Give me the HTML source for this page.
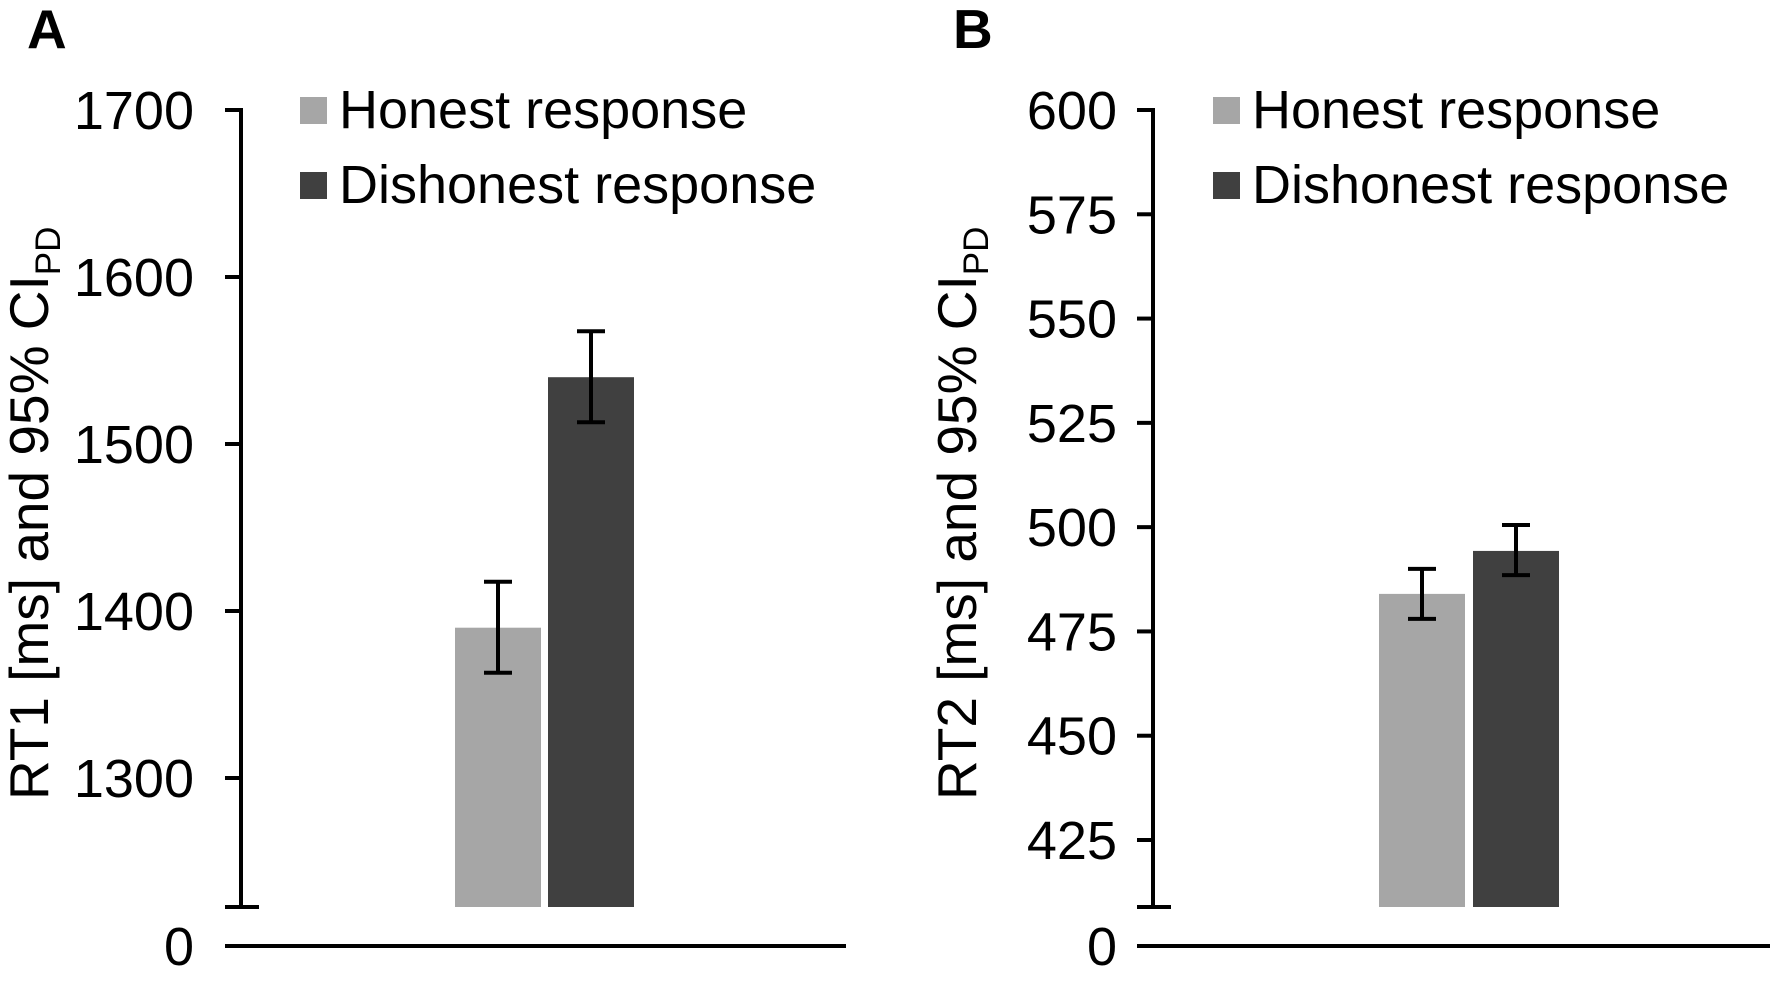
<!DOCTYPE html>
<html><head><meta charset="utf-8"><style>
html,body{margin:0;padding:0;background:#fff;}
svg{display:block;font-family:"Liberation Sans",Arial,sans-serif;}
</style></head><body>
<svg id="chart" width="1773" height="1003" viewBox="0 0 1773 1003"></svg>
<script>
const categories = ["Honest response", "Dishonest response"];
const colors = ["#a6a6a6", "#404040"];
const ticksA = [1300, 1400, 1500, 1600, 1700];
const meansA = [1390, 1540];
const lowA = [1363, 1513];
const highA = [1417.5, 1567.5];
const ticksB = [425, 450, 475, 500, 525, 550, 575, 600];
const meansB = [484, 494.3];
const lowB = [478, 488.5];
const highB = [490, 500.5];

const NS = "http://www.w3.org/2000/svg";
const svg = document.getElementById("chart");
function mk(tag, attrs, parent) {
  const e = document.createElementNS(NS, tag);
  for (const k in attrs) e.setAttribute(k, attrs[k]);
  (parent || svg).appendChild(e);
  return e;
}

function panel(cfg) {
  const g = mk("g", {});
  
  
  const y = v => cfg.yTop + (cfg.vMax - v) * (cfg.yBot - cfg.yTop) / (cfg.vMax - cfg.vMin);
  const L = mk("text", {x: cfg.letterX, y: 48, "font-size": 55, "font-weight": "bold", fill: "#000"}, g);
  L.textContent = cfg.letter;
  
  
  const ax = mk("line", {x1: cfg.axX, x2: cfg.axX, y1: cfg.yTop - 2, y2: cfg.breakY, stroke: "#000", "stroke-width": 4}, g);
  
  
  cfg.ticks.forEach(t => {
    const ty = y(t);
    const tk = mk("line", {x1: cfg.axX - 16, x2: cfg.axX, y1: ty, y2: ty, stroke: "#000", "stroke-width": 4}, g);
    
    
    const tl = mk("text", {x: cfg.labelX, y: ty + 19, "font-size": 54, "text-anchor": "end", fill: "#000"}, g);
    tl.textContent = t;
    
    
  });
  const br = mk("line", {x1: cfg.axX - 16, x2: cfg.axX + 18, y1: cfg.breakY, y2: cfg.breakY, stroke: "#000", "stroke-width": 4}, g);
  
  
  const base = mk("line", {x1: cfg.axX - 16, x2: cfg.baseEnd, y1: 946, y2: 946, stroke: "#000", "stroke-width": 4}, g);
  
  
  const z = mk("text", {x: cfg.labelX, y: 965, "font-size": 54, "text-anchor": "end", fill: "#000"}, g);
  z.textContent = "0";
  
  
  cfg.means.forEach((m, i) => {
    const x0 = cfg.barX[i];
    const b = mk("rect", {x: x0, y: y(m), width: 86, height: cfg.breakY - y(m), fill: colors[i]}, g);
    
    
    const cx = x0 + 43;
    const eg = mk("g", {stroke: "#000", "stroke-width": 4}, g);
    
    
    mk("line", {x1: cx, x2: cx, y1: y(cfg.high[i]), y2: y(cfg.low[i])}, eg);
    mk("line", {x1: cx - 14, x2: cx + 14, y1: y(cfg.high[i]), y2: y(cfg.high[i])}, eg);
    mk("line", {x1: cx - 14, x2: cx + 14, y1: y(cfg.low[i]), y2: y(cfg.low[i])}, eg);
  });
  categories.forEach((c, i) => {
    const ly = 97 + i * 75;
    const lg = mk("g", {}, g);
    
    
    mk("rect", {x: cfg.legX, y: ly, width: 27, height: 27, fill: colors[i]}, lg);
    const t = mk("text", {x: cfg.legX + 39, y: ly + 31, "font-size": 54, fill: "#000"}, lg);
    t.textContent = c;
  });
  const tt = mk("text", {transform: `translate(${cfg.titleX},${800}) rotate(-90)`, "font-size": 55, fill: "#000"}, g);
  
  
  tt.appendChild(document.createTextNode(cfg.title + " [ms] and 95% CI"));
  const sub = mk("tspan", {"font-size": 35, dy: 12}, tt);
  sub.textContent = "PD";
}

panel({name: "panel-a", letter: "A", letterX: 27, axX: 241, labelX: 194, yTop: 110, yBot: 778, vMax: 1700, vMin: 1300,
  breakY: 907, baseEnd: 846, ticks: ticksA, means: meansA, low: lowA, high: highA,
  barX: [455, 548], legX: 300, titleX: 48, title: "RT1"});
panel({name: "panel-b", letter: "B", letterX: 953, axX: 1153, labelX: 1117, yTop: 110, yBot: 840, vMax: 600, vMin: 425,
  breakY: 907, baseEnd: 1770, ticks: ticksB, means: meansB, low: lowB, high: highB,
  barX: [1379, 1473], legX: 1213, titleX: 976, title: "RT2"});
</script>
</body></html>
